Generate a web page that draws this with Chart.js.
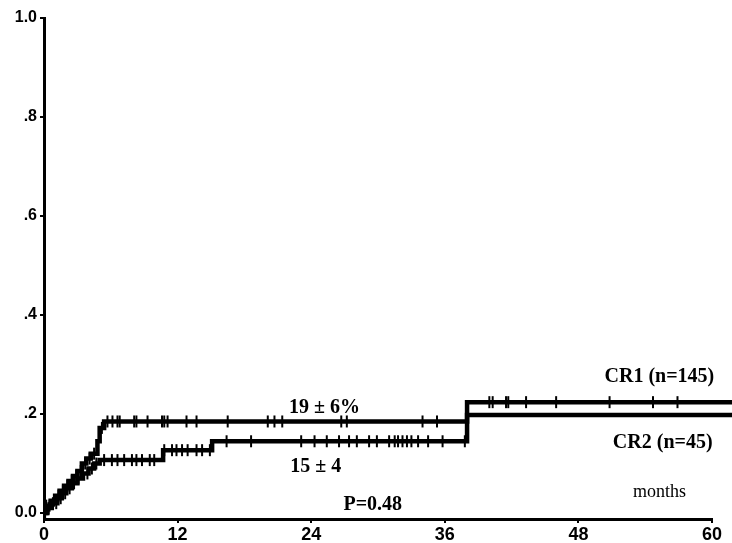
<!DOCTYPE html>
<html><head><meta charset="utf-8">
<script src="https://cdn.jsdelivr.net/npm/chart.js@4.4.1/dist/chart.umd.min.js"></script>
<style>html,body{margin:0;padding:0;background:#fff}canvas{display:block}</style>
</head><body>
<canvas id="c" width="732" height="543"></canvas>
<script>
// ---- data (months, cumulative incidence) ----
const cr1Months = [0, 0.2, 0.6, 1.0, 1.4, 1.8, 2.2, 2.6, 3.0, 3.4, 3.8, 4.2, 4.8, 5.0, 5.4, 38.0, 61.8];
const cr1Values = [0, 0.015, 0.025, 0.035, 0.045, 0.055, 0.065, 0.075, 0.085, 0.10, 0.11, 0.12, 0.145, 0.172, 0.185, 0.224, 0.224];
const cr2Months = [0, 0.3, 0.7, 1.2, 1.6, 2.0, 2.5, 3.0, 3.5, 4.0, 4.5, 5.0, 10.7, 15.1, 38.0, 61.8];
const cr2Values = [0, 0.01, 0.02, 0.03, 0.04, 0.05, 0.06, 0.07, 0.08, 0.09, 0.10, 0.107, 0.127, 0.145, 0.198, 0.198];
// censoring marks (months)
const cr1Censored = [0.2, 0.5, 0.9, 1.3, 1.7, 2.1, 2.5, 2.9, 3.3, 3.7, 4.1, 4.5, 5.2, 5.7, 6.15, 6.6, 6.8, 8.1, 8.3, 9.3, 10.6, 10.8, 11.1, 12.8, 13.7, 16.5, 20.1, 20.7, 21.4, 26.7, 27.2, 34.0, 35.3, 40.0, 40.3, 41.5, 41.7, 43.3, 46.0, 50.8, 54.7, 56.9];
const cr2Censored = [0.1, 0.4, 0.8, 1.1, 1.5, 1.9, 2.3, 2.7, 3.1, 3.5, 3.9, 4.3, 4.7, 5.4, 6.1, 6.6, 7.2, 7.9, 8.3, 8.8, 9.5, 9.9, 10.8, 11.5, 11.9, 12.4, 12.9, 13.7, 14.2, 14.9, 16.4, 18.6, 23.1, 24.3, 25.4, 26.5, 27.4, 28.1, 29.2, 29.9, 31.0, 31.5, 31.8, 32.2, 32.6, 33.0, 33.6, 34.5, 35.8, 37.8];
const xTickLabels = ['0', '12', '24', '36', '48', '60'];
const xTickValues = [0, 12, 24, 36, 48, 60];
const yTickValues = [0, 0.2, 0.4, 0.6, 0.8, 1.0];
const yTickLabels = ['0.0', '.2', '.4', '.6', '.8', '1.0'];
const labels = [
  {text: '19 \u00b1 6%', x: 25.2, y: 0.202, align: 'center', font: 'bold 20px "Liberation Serif"'},
  {text: '15 \u00b1 4', x: 24.4, y: 0.083, align: 'center', font: 'bold 20px "Liberation Serif"'},
  {text: 'P=0.48', x: 26.9, y: 0.006, align: 'left', font: 'bold 20px "Liberation Serif"'},
  {text: 'months', x: 52.9, y: 0.032, align: 'left', font: '18px "Liberation Serif"'},
  {text: 'CR1 (n=145)', x: 60.2, y: 0.265, align: 'right', font: 'bold 20px "Liberation Serif"'},
  {text: 'CR2 (n=45)', x: 60.05, y: 0.131, align: 'right', font: 'bold 20px "Liberation Serif"'}
];

function toPoints(xs, ys) { return xs.map((x, i) => ({x: x, y: ys[i]})); }
function stepAt(xs, ys, t) { let v = ys[0]; for (let i = 0; i < xs.length; i++) { if (xs[i] <= t) v = ys[i]; } return v; }
function censorPoints(cs, xs, ys) { return cs.map(t => ({x: t, y: stepAt(xs, ys, t)})); }

const textPlugin = {
  id: 'texts',
  afterDatasetsDraw(chart) {
    const ctx = chart.ctx, xs = chart.scales.x, ys = chart.scales.y;
    ctx.save();
    ctx.fillStyle = '#000';
    ctx.textBaseline = 'alphabetic';
    labels.forEach(l => {
      ctx.font = l.font;
      ctx.textAlign = l.align;
      ctx.fillText(l.text, xs.getPixelForValue(l.x), ys.getPixelForValue(l.y));
    });
    ctx.restore();
  }
};

const lineStyle = {borderColor: '#000', borderWidth: 4.5, stepped: 'before', pointRadius: 0, fill: false, clip: false, tension: 0};
const tickStyle = {type: 'scatter', showLine: false, pointStyle: 'line', rotation: 90, pointRadius: 6, borderColor: '#000', backgroundColor: '#000', pointBorderWidth: 2, borderWidth: 2, clip: false};

new Chart(document.getElementById('c'), {
  type: 'line',
  data: {
    datasets: [
      Object.assign({label: 'CR1 (n=145)', data: toPoints(cr1Months, cr1Values)}, lineStyle),
      Object.assign({label: 'CR2 (n=45)', data: toPoints(cr2Months, cr2Values)}, lineStyle),
      Object.assign({label: 'CR1 censored', data: censorPoints(cr1Censored, cr1Months, cr1Values)}, tickStyle),
      Object.assign({label: 'CR2 censored', data: censorPoints(cr2Censored, cr2Months, cr2Values)}, tickStyle)
    ]
  },
  options: {
    responsive: false,
    animation: false,
    devicePixelRatio: 1,
    layout: {padding: {top: 18, right: 20, left: 0, bottom: 0}},
    plugins: {legend: {display: false}, tooltip: {enabled: false}},
    scales: {
      x: {
        type: 'linear', min: 0, max: 60,
        afterBuildTicks: s => { s.ticks = xTickValues.map(v => ({value: v})); },
        afterFit: s => { s.height = 24; },
        ticks: {
          color: '#000', padding: 1, maxRotation: 0,
          font: {family: '"Liberation Sans", Arial', size: 18, weight: 'bold'},
          callback: (v) => xTickLabels[xTickValues.indexOf(v)]
        },
        grid: {drawOnChartArea: false, drawTicks: true, tickLength: 4, color: '#000', lineWidth: 2},
        border: {display: true, color: '#000', width: 3}
      },
      y: {
        type: 'linear', min: -0.012, max: 1.0,
        afterBuildTicks: s => { s.ticks = yTickValues.map(v => ({value: v})); },
        afterFit: s => { s.width = 44; },
        ticks: {
          color: '#000', padding: 3,
          font: {family: '"Liberation Sans", Arial', size: 16, weight: 'bold'},
          callback: (v) => yTickLabels[yTickValues.indexOf(v)]
        },
        grid: {drawOnChartArea: false, drawTicks: true, tickLength: 4, color: '#000', lineWidth: 2},
        border: {display: true, color: '#000', width: 3}
      }
    }
  },
  plugins: [textPlugin]
});
</script>
</body></html>
